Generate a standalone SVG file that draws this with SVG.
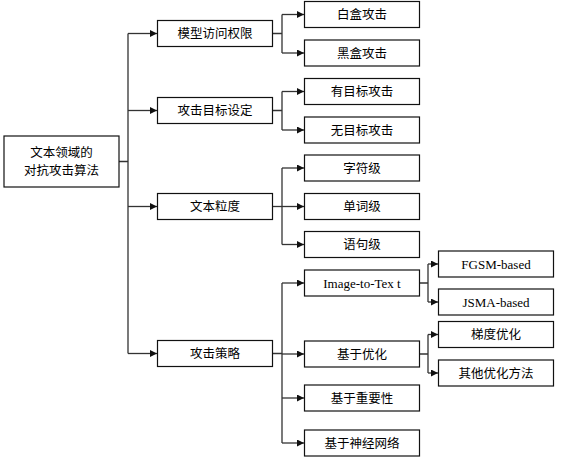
<svg xmlns="http://www.w3.org/2000/svg" width="565" height="463" viewBox="0 0 565 463">
<style>
rect.b{fill:#fff;stroke:#111;stroke-width:1.2}
rect.s{fill:none;stroke:#999;stroke-width:1}
text{font-family:"Liberation Serif","Noto Sans CJK SC",serif;font-size:12.5px;fill:#000;text-anchor:middle}
text.e{font-size:13px}
#connectors path{fill:none;stroke:#333;stroke-width:1.3}
</style>
<defs>
<marker id="ah" markerUnits="userSpaceOnUse" markerWidth="8" markerHeight="8" refX="7" refY="3.5" orient="auto">
<path d="M0,0 L7,3.5 L0,7 z" fill="#111"/>
</marker>
</defs>
<rect width="565" height="463" fill="#fff"/>
<g id="connectors">
<path d="M119,161.5 H128 M128,33.5 V353.5"/>
<path d="M128,33.5 H157" marker-end="url(#ah)"/>
<path d="M128,110.5 H157" marker-end="url(#ah)"/>
<path d="M128,206.5 H157" marker-end="url(#ah)"/>
<path d="M128,353.5 H157" marker-end="url(#ah)"/>
<path d="M272.5,33.5 H282 M282,14.5 V53"/>
<path d="M282,14.5 H304" marker-end="url(#ah)"/>
<path d="M282,53 H304" marker-end="url(#ah)"/>
<path d="M272.5,110.5 H282 M282,91.5 V130"/>
<path d="M282,91.5 H304" marker-end="url(#ah)"/>
<path d="M282,130 H304" marker-end="url(#ah)"/>
<path d="M282,168 V244.5"/>
<path d="M272.5,206.5 H304" marker-end="url(#ah)"/>
<path d="M282,168 H304" marker-end="url(#ah)"/>
<path d="M282,244.5 H304" marker-end="url(#ah)"/>
<path d="M272.5,353.5 H282 M282,283 V443"/>
<path d="M282,283 H304" marker-end="url(#ah)"/>
<path d="M282,354 H304" marker-end="url(#ah)"/>
<path d="M282,398 H304" marker-end="url(#ah)"/>
<path d="M282,443 H304" marker-end="url(#ah)"/>
<path d="M419.5,283 H428 M428,264 V302"/>
<path d="M428,264 H438" marker-end="url(#ah)"/>
<path d="M428,302 H438" marker-end="url(#ah)"/>
<path d="M419.5,354 H428 M428,334.5 V373"/>
<path d="M428,334.5 H438" marker-end="url(#ah)"/>
<path d="M428,373 H438" marker-end="url(#ah)"/>
</g>
<g id="root"><rect class="b" x="4" y="136" width="115" height="51"/><text x="61.5" y="157">文本领域的</text><text x="61.5" y="175">对抗攻击算法</text></g>
<g id="n_access"><rect class="b" x="157.5" y="20.5" width="115" height="26"/><text x="215" y="38">模型访问权限</text></g>
<g id="n_target"><rect class="b" x="157.5" y="97.5" width="115" height="26"/><text x="215" y="115">攻击目标设定</text></g>
<g id="n_gran"><rect class="b" x="157.5" y="193.5" width="115" height="26"/><text x="215" y="211">文本粒度</text></g>
<g id="n_strat"><rect class="b" x="157.5" y="340.5" width="115" height="26"/><text x="215" y="358">攻击策略</text></g>
<g id="n_white"><rect class="b" x="304.5" y="1.5" width="115" height="26"/><text x="362" y="19">白盒攻击</text></g>
<g id="n_black"><rect class="b" x="304.5" y="40" width="115" height="26"/><text x="362" y="57.5">黑盒攻击</text></g>
<g id="n_tgt"><rect class="b" x="304.5" y="78.5" width="115" height="26"/><text x="362" y="96">有目标攻击</text></g>
<g id="n_untgt"><rect class="b" x="304.5" y="117" width="115" height="26"/><text x="362" y="134.5">无目标攻击</text></g>
<g id="n_char"><rect class="b" x="304.5" y="155" width="115" height="26"/><text x="362" y="172.5">字符级</text></g>
<g id="n_word"><rect class="b" x="304.5" y="193.5" width="115" height="26"/><text x="362" y="211">单词级</text></g>
<g id="n_sent"><rect class="b" x="304.5" y="231.5" width="115" height="26"/><text x="362" y="249">语句级</text></g>
<g id="n_i2t"><rect class="b" x="304.5" y="270" width="115" height="26"/><text class="e" x="362" y="287.5">Image-to-Tex t</text></g>
<g id="n_opt"><rect class="b" x="304.5" y="341" width="115" height="26"/><text x="362" y="358.5">基于优化</text></g>
<g id="n_imp"><rect class="b" x="304.5" y="385" width="115" height="26"/><text x="362" y="402.5">基于重要性</text></g>
<g id="n_nn"><rect class="b" x="304.5" y="430" width="115" height="26"/><text x="362" y="447.5">基于神经网络</text></g>
<g id="n_fgsm"><rect class="b" x="438.5" y="251" width="115" height="26"/><text class="e" x="496" y="268.5">FGSM-based</text></g>
<g id="n_jsma"><rect class="b" x="438.5" y="289" width="115" height="26"/><text class="e" x="496" y="306.5">JSMA-based</text></g>
<g id="n_grad"><rect class="b" x="438.5" y="321.5" width="115" height="26"/><text x="496" y="339">梯度优化</text></g>
<g id="n_other"><rect class="b" x="438.5" y="360" width="115" height="26"/><text x="496" y="377.5">其他优化方法</text></g>
</svg>
